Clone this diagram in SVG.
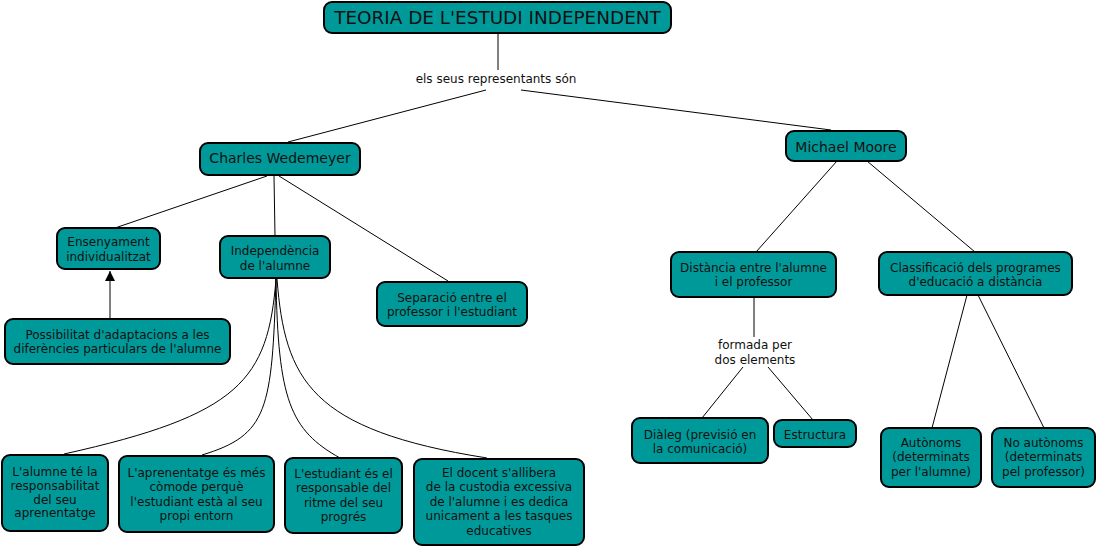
<svg xmlns="http://www.w3.org/2000/svg" width="1097" height="547" viewBox="0 0 1097 547">
<style>
.box{fill:#009999;stroke:#000;stroke-width:2}
.t{font-family:"DejaVu Sans","Verdana",sans-serif;font-size:12px;fill:#111;text-anchor:middle}
.t14{font-size:14px}
.t18{font-size:18.4px}
.c{fill:none;stroke:#000;stroke-width:1}
</style>
<defs>
<marker id="arr" viewBox="0 0 10 10" refX="10" refY="5" markerWidth="10" markerHeight="10" markerUnits="userSpaceOnUse" orient="auto">
<path d="M0,0 L10,5 L0,10 Z" fill="#000"/>
</marker>
</defs>
<rect width="1097" height="547" fill="#fff"/>
<g id="connectors">
<line class="c" x1="498" y1="34" x2="498" y2="70"/>
<line class="c" x1="486" y1="90" x2="288" y2="142"/>
<line class="c" x1="521" y1="90" x2="831" y2="130"/>
<line class="c" x1="267" y1="176" x2="115" y2="228"/>
<line class="c" x1="274" y1="176" x2="275" y2="236"/>
<line class="c" x1="279" y1="176" x2="448" y2="281"/>
<line class="c" x1="110" y1="319" x2="110" y2="271" marker-end="url(#arr)"/>
<path class="c" d="M276,279 C268,380 240,415 64,454"/>
<path class="c" d="M276,279 C272,410 268,435 202,455"/>
<path class="c" d="M276,279 C278,400 290,430 340,458"/>
<path class="c" d="M277,279 C285,380 310,430 487,458"/>
<line class="c" x1="837" y1="161" x2="756" y2="252"/>
<line class="c" x1="867" y1="161" x2="975" y2="252"/>
<line class="c" x1="754" y1="297" x2="754" y2="337"/>
<line class="c" x1="743" y1="367" x2="702" y2="418"/>
<line class="c" x1="768" y1="367" x2="813" y2="420"/>
<line class="c" x1="967" y1="295" x2="932" y2="428"/>
<line class="c" x1="978" y1="295" x2="1044" y2="428"/>
</g>
<g id="lbl-representants">
<text class="t" x="496" y="83">els seus representants són</text>
</g>
<g id="lbl-formada">
<text class="t" x="755" y="349">formada per</text>
<text class="t" x="755" y="363.5">dos elements</text>
</g>
<g id="n-teoria">
<rect class="box" x="324" y="2" width="347" height="31" rx="8"/>
<text class="t t18" x="497.5" y="24">TEORIA DE L'ESTUDI INDEPENDENT</text>
</g>
<g id="n-charles">
<rect class="box" x="200" y="143" width="160" height="32" rx="8"/>
<text class="t t14" x="280" y="163">Charles Wedemeyer</text>
</g>
<g id="n-michael">
<rect class="box" x="786" y="131" width="120" height="30" rx="8"/>
<text class="t t14" x="846" y="151.5">Michael Moore</text>
</g>
<g id="n-ensenyament">
<rect class="box" x="57" y="228" width="103" height="41" rx="8"/>
<text class="t" x="108.5" y="246">Ensenyament</text>
<text class="t" x="108.5" y="261">individualitzat</text>
</g>
<g id="n-independencia">
<rect class="box" x="220" y="236" width="110" height="42" rx="8"/>
<text class="t" x="275" y="255">Independència</text>
<text class="t" x="275" y="270">de l'alumne</text>
</g>
<g id="n-separacio">
<rect class="box" x="377" y="282" width="150" height="44" rx="8"/>
<text class="t" x="452" y="302">Separació entre el</text>
<text class="t" x="452" y="316">professor i l'estudiant</text>
</g>
<g id="n-possibilitat">
<rect class="box" x="5" y="319" width="225" height="45" rx="8"/>
<text class="t" x="117.5" y="339">Possibilitat d'adaptacions a les</text>
<text class="t" x="117.5" y="353">diferències particulars de l'alumne</text>
</g>
<g id="n-alumne">
<rect class="box" x="2" y="455" width="106" height="76" rx="8"/>
<text class="t" x="55" y="476">L'alumne té la</text>
<text class="t" x="55" y="490">responsabilitat</text>
<text class="t" x="55" y="503.5">del seu</text>
<text class="t" x="55" y="517">aprenentatge</text>
</g>
<g id="n-aprenentatge">
<rect class="box" x="119" y="456" width="155" height="76" rx="8"/>
<text class="t" x="196.5" y="476.5">L'aprenentatge és més</text>
<text class="t" x="196.5" y="491">còmode perquè</text>
<text class="t" x="196.5" y="505.5">l'estudiant està al seu</text>
<text class="t" x="196.5" y="520">propi entorn</text>
</g>
<g id="n-estudiant">
<rect class="box" x="285" y="458" width="117" height="75" rx="8"/>
<text class="t" x="343.5" y="477.5">L'estudiant és el</text>
<text class="t" x="343.5" y="492">responsable del</text>
<text class="t" x="343.5" y="506.5">ritme del seu</text>
<text class="t" x="343.5" y="521">progrés</text>
</g>
<g id="n-docent">
<rect class="box" x="414" y="459" width="170" height="86" rx="8"/>
<text class="t" x="499" y="476.5">El docent s'allibera</text>
<text class="t" x="499" y="491">de la custodia excessiva</text>
<text class="t" x="499" y="505.5">de l'alumne i es dedica</text>
<text class="t" x="499" y="520">unicament a les tasques</text>
<text class="t" x="499" y="534.5">educatives</text>
</g>
<g id="n-distancia">
<rect class="box" x="671" y="252" width="165" height="45" rx="8"/>
<text class="t" x="753.5" y="271.5">Distància entre l'alumne</text>
<text class="t" x="753.5" y="286">i el professor</text>
</g>
<g id="n-classificacio">
<rect class="box" x="879" y="252" width="193" height="43" rx="8"/>
<text class="t" x="975.5" y="271.5">Classificació dels programes</text>
<text class="t" x="975.5" y="286">d'educació a distància</text>
</g>
<g id="n-dialeg">
<rect class="box" x="632" y="418" width="136" height="45" rx="8"/>
<text class="t" x="700" y="438.5">Diàleg (previsió en</text>
<text class="t" x="700" y="453">la comunicació)</text>
</g>
<g id="n-estructura">
<rect class="box" x="774" y="420" width="82" height="27" rx="8"/>
<text class="t" x="815" y="439">Estructura</text>
</g>
<g id="n-autonoms">
<rect class="box" x="881" y="428" width="100" height="59" rx="8"/>
<text class="t" x="931" y="446.5">Autònoms</text>
<text class="t" x="931" y="461">(determinats</text>
<text class="t" x="931" y="475.5">per l'alumne)</text>
</g>
<g id="n-noautonoms">
<rect class="box" x="992" y="428" width="103" height="59" rx="8"/>
<text class="t" x="1043.5" y="446.5">No autònoms</text>
<text class="t" x="1043.5" y="461">(determinats</text>
<text class="t" x="1043.5" y="475.5">pel professor)</text>
</g>
</svg>
